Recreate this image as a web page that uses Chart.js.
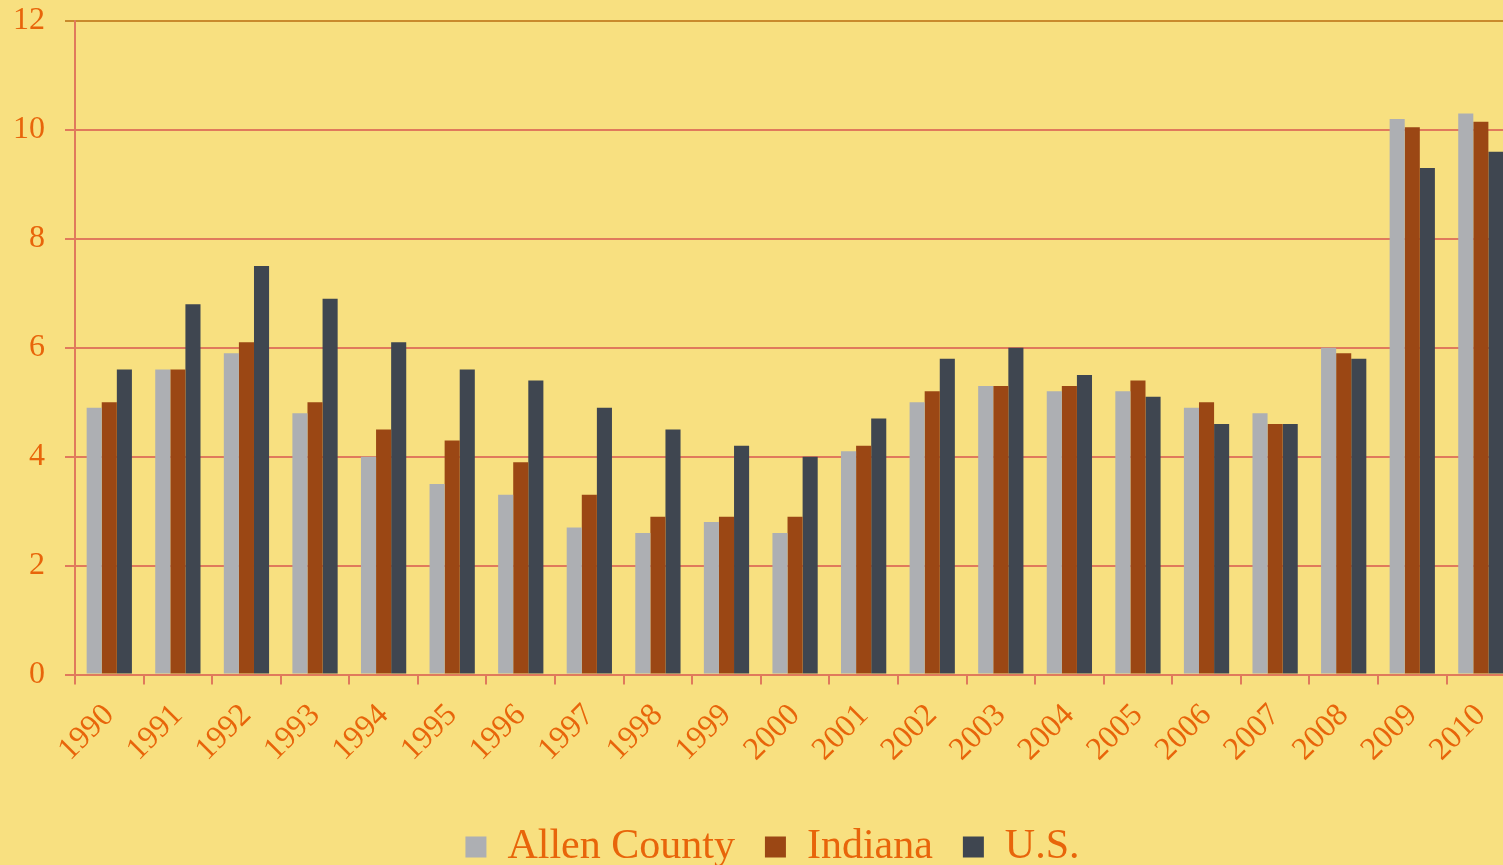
<!DOCTYPE html>
<html>
<head>
<meta charset="utf-8">
<script src="https://cdn.jsdelivr.net/npm/chart.js@4"></script>
<style>
  html, body { margin: 0; padding: 0; background: #f8e080; overflow: hidden; }
  .chart-wrap { width: 1520px; height: 865px; position: relative; }
</style>
</head>
<body>
<div class="chart-wrap"><canvas id="myChart"></canvas></div>
<script>
const years = ["1990", "1991", "1992", "1993", "1994", "1995", "1996", "1997", "1998", "1999", "2000",
  "2001", "2002", "2003", "2004", "2005", "2006", "2007", "2008", "2009", "2010"];
const allenCounty = [4.9, 5.6, 5.9, 4.8, 4.0, 3.5, 3.3, 2.7, 2.6, 2.8, 2.6, 4.1, 5.0, 5.3, 5.2, 5.2, 4.9, 4.8, 6.0, 10.2, 10.3];
const indiana = [5.0, 5.6, 6.1, 5.0, 4.5, 4.3, 3.9, 3.3, 2.9, 2.9, 2.9, 4.2, 5.2, 5.3, 5.3, 5.4, 5.0, 4.6, 5.9, 10.05, 10.15];
const us = [5.6, 6.8, 7.5, 6.9, 6.1, 5.6, 5.4, 4.9, 4.5, 4.2, 4.0, 4.7, 5.8, 6.0, 5.5, 5.1, 4.6, 4.6, 5.8, 9.3, 9.6];
const yTicks = [0, 2, 4, 6, 8, 10, 12];

const textColor = "#e8650a";
const gridColor = "#e07a5c";
const serif = "'Liberation Serif', 'DejaVu Serif', serif";

// nudge the legend a little to the right, like the original
const legendShift = {
  id: "legendShift",
  afterLayout(chart) {
    chart.legend.left += 6;
    chart.legend.right += 6;
  },
};

const ctx = document.getElementById("myChart");

new Chart(ctx, {
  type: "bar",
  data: {
    labels: years,
    datasets: [
      { label: "Allen County", data: allenCounty, backgroundColor: "#adafb3" },
      { label: "Indiana", data: indiana, backgroundColor: "#9b4714" },
      { label: "U.S.", data: us, backgroundColor: "#3f4650" },
    ],
  },
  plugins: [legendShift],
  options: {
    responsive: true,
    maintainAspectRatio: false,
    animation: false,
    layout: {
      padding: { top: 21, left: 13, right: 0, bottom: -13 },
    },
    datasets: {
      bar: { barPercentage: 1, categoryPercentage: 0.66, borderWidth: 0 },
    },
    scales: {
      y: {
        min: 0,
        max: 12,
        afterBuildTicks: (axis) => {
          axis.ticks = yTicks.map((v) => ({ value: v }));
        },
        afterFit: (scale) => {
          scale.width -= 20;
          scale.paddingTop = 0;
          scale.paddingBottom = 0;
        },
        ticks: {
          color: textColor,
          padding: 20,
          font: { family: serif, size: 32 },
        },
        grid: {
          color: (c) => (c.tick && c.tick.value === 12 ? "#c98a2c" : gridColor),
          lineWidth: 2,
          tickLength: 10,
        },
        border: { color: gridColor, width: 2 },
      },
      x: {
        afterFit: (scale) => {
          scale.paddingLeft = 0;
          scale.height += 15;
        },
        ticks: {
          color: textColor,
          minRotation: 45,
          maxRotation: 45,
          padding: 12,
          font: { family: serif, size: 32 },
        },
        grid: {
          drawOnChartArea: false,
          drawTicks: true,
          tickLength: 10,
          color: gridColor,
          lineWidth: 2,
        },
        border: { color: gridColor, width: 2 },
      },
    },
    plugins: {
      legend: {
        position: "bottom",
        labels: {
          color: textColor,
          boxWidth: 21,
          boxHeight: 21,
          padding: 30,
          font: { family: serif, size: 42 },
        },
      },
      tooltip: { enabled: false },
    },
  },
});
</script>
</body>
</html>
